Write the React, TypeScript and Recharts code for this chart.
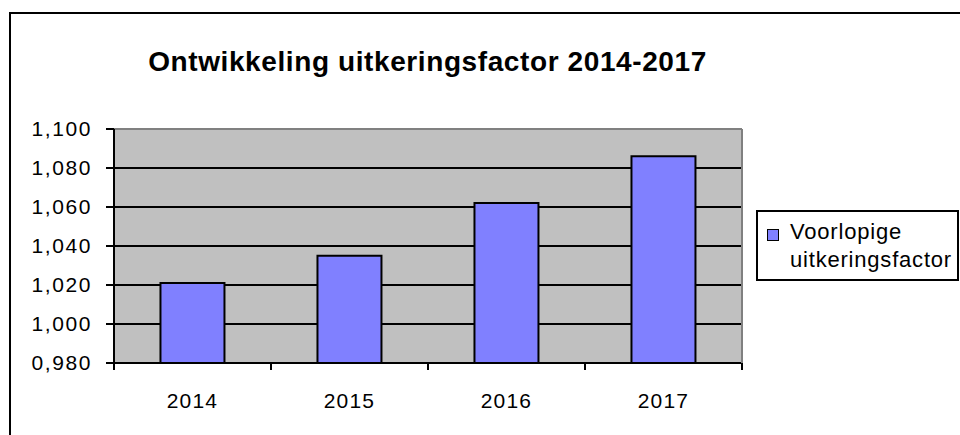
import React from 'react';
import { BarChart, Bar, XAxis, YAxis, CartesianGrid, Legend } from 'recharts';

const YEARS = ['2014', '2015', '2016', '2017'];
const FACTOR = [1.021, 1.035, 1.062, 1.086];
const Y_TICKS = [0.98, 1.0, 1.02, 1.04, 1.06, 1.08, 1.1];
const SERIES_NAME = 'Voorlopige uitkeringsfactor';
const TITLE = 'Ontwikkeling uitkeringsfactor 2014-2017';

const FONT = '"Liberation Sans", Arial, sans-serif';
const BAR_COLOR = '#8080FF';
const PLOT_WIDTH = 628;
const TICK_OFFSET = 30; // tickSize + tickMargin of the x axis

const data = YEARS.map((year, i) => ({ year, factor: FACTOR[i] }));

const fmt = (v: number) => v.toFixed(3).replace('.', ',');

// x labels in the middle of each category, tick marks at the category edges
const XTick = ({ x, y, payload, index }: any) => {
    const half = PLOT_WIDTH / YEARS.length / 2;
    const axisY = y - TICK_OFFSET;
    return (
        <g>
            <line x1={x - half} y1={axisY} x2={x - half} y2={axisY + 7} stroke="#000" strokeWidth={2} />
            {index === YEARS.length - 1 && (
                <line x1={x + half} y1={axisY} x2={x + half} y2={axisY + 7} stroke="#000" strokeWidth={2} />
            )}
            <text x={x} y={y} dy="0.71em" textAnchor="middle" fill="#000" fontSize={21} fontFamily={FONT} letterSpacing={1.2}>
                {payload.value}
            </text>
        </g>
    );
};

const GridLine = (p: any) => (
    <line
        x1={p.x1}
        y1={p.y1}
        x2={p.x2}
        y2={p.y2}
        stroke={p.index === Y_TICKS.length - 1 ? '#808080' : '#000'}
        strokeWidth={2}
    />
);

const LegendBox = ({ payload }: any) => {
    const item = payload && payload[0];
    if (!item) return null;
    return (
        <div
            style={{
                boxSizing: 'border-box',
                width: 203,
                height: 71,
                border: '2px solid #000',
                background: '#fff',
                position: 'relative',
                fontFamily: FONT,
                fontSize: 22,
                lineHeight: '28px',
                letterSpacing: 0.8,
                color: '#000',
                paddingLeft: 32,
                paddingTop: 6,
            }}
        >
            <span
                style={{
                    position: 'absolute',
                    left: 9,
                    top: 17,
                    width: 10,
                    height: 10,
                    background: item.color,
                    border: '1.5px solid #000',
                }}
            />
            <div>Voorlopige</div>
            <div>uitkeringsfactor</div>
        </div>
    );
};

export default function App() {
    return (
        <div style={{ position: 'absolute', left: 0, top: 0, width: 960, height: 435, overflow: 'hidden', background: '#fff' }}>
            <div
                style={{
                    position: 'absolute',
                    left: 9,
                    top: 12,
                    width: 1000,
                    height: 500,
                    border: '2px solid #000',
                }}
            />
            <div
                style={{
                    position: 'absolute',
                    left: 0,
                    top: 49,
                    width: 855,
                    textAlign: 'center',
                    fontFamily: FONT,
                    fontWeight: 'bold',
                    fontSize: 28,
                    lineHeight: '26px',
                    letterSpacing: 0.6,
                    color: '#000',
                }}
            >
                {TITLE}
            </div>
            <div style={{ position: 'absolute', left: 0, top: 0 }}>
                <BarChart
                    width={960}
                    height={435}
                    data={data}
                    margin={{ top: 129, right: 217, bottom: 32, left: 0 }}
                    barCategoryGap="29.6%"
                >
                    <CartesianGrid
                        vertical={false}
                        horizontal={GridLine}
                        fill="#C0C0C0"
                        fillOpacity={1}
                    />
                    <XAxis
                        dataKey="year"
                        height={40}
                        tickSize={6}
                        tickMargin={24}
                        tickLine={false}
                        axisLine={{ stroke: '#000', strokeWidth: 2 }}
                        tick={<XTick />}
                        interval={0}
                    />
                    <YAxis
                        width={114}
                        domain={[0.98, 1.1]}
                        ticks={Y_TICKS}
                        tickFormatter={fmt}
                        tickSize={8}
                        tickMargin={14}
                        allowDataOverflow
                        axisLine={{ stroke: '#000', strokeWidth: 2 }}
                        tickLine={{ stroke: '#000', strokeWidth: 2 }}
                        tick={{ fill: '#000', fontSize: 21, fontFamily: FONT, letterSpacing: 1.6 }}
                    />
                    <YAxis
                        yAxisId="right"
                        orientation="right"
                        width={1}
                        domain={[0.98, 1.1]}
                        ticks={Y_TICKS}
                        tick={false}
                        tickLine={false}
                        axisLine={{ stroke: '#808080', strokeWidth: 2 }}
                    />
                    <Legend
                        layout="vertical"
                        align="center"
                        verticalAlign="middle"
                        content={<LegendBox />}
                        wrapperStyle={{ left: 756, top: 210, width: 203, height: 71 }}
                    />
                    <Bar
                        dataKey="factor"
                        name={SERIES_NAME}
                        fill={BAR_COLOR}
                        stroke="#000"
                        strokeWidth={2}
                        isAnimationActive={false}
                    />
                </BarChart>
            </div>
        </div>
    );
}
